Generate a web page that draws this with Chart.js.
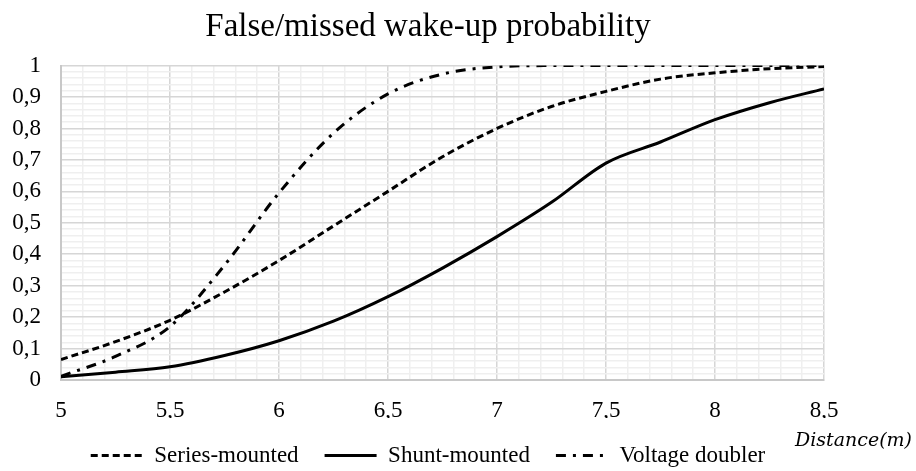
<!DOCTYPE html>
<html>
<head>
<meta charset="utf-8">
<script src="https://cdn.jsdelivr.net/npm/chart.js@4.4.1/dist/chart.umd.min.js"></script>
<style>
  html, body { margin: 0; padding: 0; background: #ffffff; }
  #wrap { width: 916px; height: 471px; position: relative; }
</style>
</head>
<body>
<div id="wrap"><canvas id="chartWake"></canvas></div>
<script>
Chart.defaults.font.family = "'Liberation Serif', 'Times New Roman', serif";
Chart.defaults.color = '#000000';

// distance (m)
const distance = [5, 5.25, 5.5, 5.75, 6, 6.25, 6.5, 6.75, 7, 7.25, 7.5, 7.75, 8, 8.25, 8.5];

const seriesMounted  = [0.065, 0.122, 0.19, 0.28, 0.38, 0.49, 0.60, 0.71, 0.80, 0.87, 0.918, 0.957, 0.977, 0.99, 0.997];
const shuntMounted   = [0.01, 0.025, 0.042, 0.078, 0.125, 0.187, 0.265, 0.356, 0.456, 0.565, 0.69, 0.757, 0.828, 0.882, 0.926];
const voltageDoubler = [0.012, 0.075, 0.17, 0.365, 0.595, 0.785, 0.91, 0.973, 0.996, 1, 1, 1, 1, 1, 1];

const seriesNames = ['Series-mounted', 'Shunt-mounted', 'Voltage doubler'];

const toPoints = (ys) => distance.map((d, i) => ({ x: d, y: ys[i] }));
const isStep = (v, step) => Math.abs(Math.round(v / step) * step - v) < 1e-6;
const fmt = (v) => String(Math.round(v * 10) / 10).replace('.', ',');

// Distance(m) label sits right of the axis, like the original
const axisNamePlugin = {
    id: 'axisName',
    afterDraw(chart) {
        const ctx = chart.ctx;
        ctx.save();
        ctx.font = "italic 19px 'DejaVu Serif', serif";
        ctx.fillStyle = '#000000';
        ctx.textAlign = 'right';
        ctx.textBaseline = 'alphabetic';
        ctx.fillText('Distance(m)', 912, 446);
        ctx.restore();
    }
};

const ctx = document.getElementById('chartWake').getContext('2d');
new Chart(ctx, {
    type: 'line',
    data: {
        datasets: [{
            label: seriesNames[0],
            data: toPoints(seriesMounted),
            borderColor: '#000000',
            backgroundColor: '#000000',
            borderWidth: 3,
            borderDash: [7, 4],
            pointRadius: 0,
            cubicInterpolationMode: 'monotone'
        }, {
            label: seriesNames[1],
            data: toPoints(shuntMounted),
            borderColor: '#000000',
            backgroundColor: '#000000',
            borderWidth: 3,
            pointRadius: 0,
            cubicInterpolationMode: 'monotone'
        }, {
            label: seriesNames[2],
            data: toPoints(voltageDoubler),
            borderColor: '#000000',
            backgroundColor: '#000000',
            borderWidth: 3,
            borderDash: [10, 7, 3, 7],
            pointRadius: 0,
            cubicInterpolationMode: 'monotone'
        }]
    },
    options: {
        responsive: true,
        maintainAspectRatio: false,
        animation: false,
        layout: { padding: { left: 0, right: 60, top: 0, bottom: 0 } },
        plugins: {
            title: {
                display: true,
                text: 'False/missed wake-up probability',
                color: '#000000',
                font: { size: 33, weight: 'normal' },
                padding: { top: 8, bottom: 18 }
            },
            legend: {
                display: true,
                position: 'bottom',
                maxHeight: 53,
                labels: {
                    usePointStyle: true,
                    pointStyle: 'line',
                    pointStyleWidth: 52,
                    boxWidth: 52,
                    padding: 26,
                    color: '#000000',
                    font: { size: 23 },
                    generateLabels: (chart) => {
                        const items = Chart.defaults.plugins.legend.labels.generateLabels(chart);
                        return items.map((item) => {
                            const ds = chart.data.datasets[item.datasetIndex];
                            return {
                                ...item,
                                lineDash: ds.borderDash || [],
                                lineWidth: 3,
                                strokeStyle: '#000000',
                                fillStyle: '#000000'
                            };
                        });
                    }
                }
            },
            tooltip: { enabled: false }
        },
        scales: {
            x: {
                type: 'linear',
                min: 5,
                max: 8.5,
                border: { color: '#c8c8c8', width: 2 },
                grid: {
                    drawTicks: false,
                    lineWidth: 1.5,
                    color: (c) => isStep(c.tick.value, 0.5) ? '#d6d6d6' : '#efefef'
                },
                ticks: {
                    stepSize: 0.1,
                    autoSkip: false,
                    maxRotation: 0,
                    padding: 17,
                    font: { size: 23 },
                    callback: (v) => isStep(v, 0.5) ? fmt(v) : ''
                },
                afterFit: (scale) => {
                    scale.paddingRight = 92;
                    scale.height = 38;
                }
            },
            y: {
                min: 0,
                max: 1,
                border: { color: '#c8c8c8', width: 2 },
                grid: {
                    drawTicks: false,
                    lineWidth: 1.5,
                    color: (c) => isStep(c.tick.value, 0.1) ? '#d6d6d6' : '#efefef'
                },
                ticks: {
                    stepSize: 0.02,
                    autoSkip: false,
                    padding: 20,
                    font: { size: 23 },
                    callback: (v) => isStep(v, 0.1) ? fmt(v) : ''
                },
                afterFit: (scale) => { scale.width = 61; }
            }
        }
    },
    plugins: [axisNamePlugin]
});
</script>
</body>
</html>
